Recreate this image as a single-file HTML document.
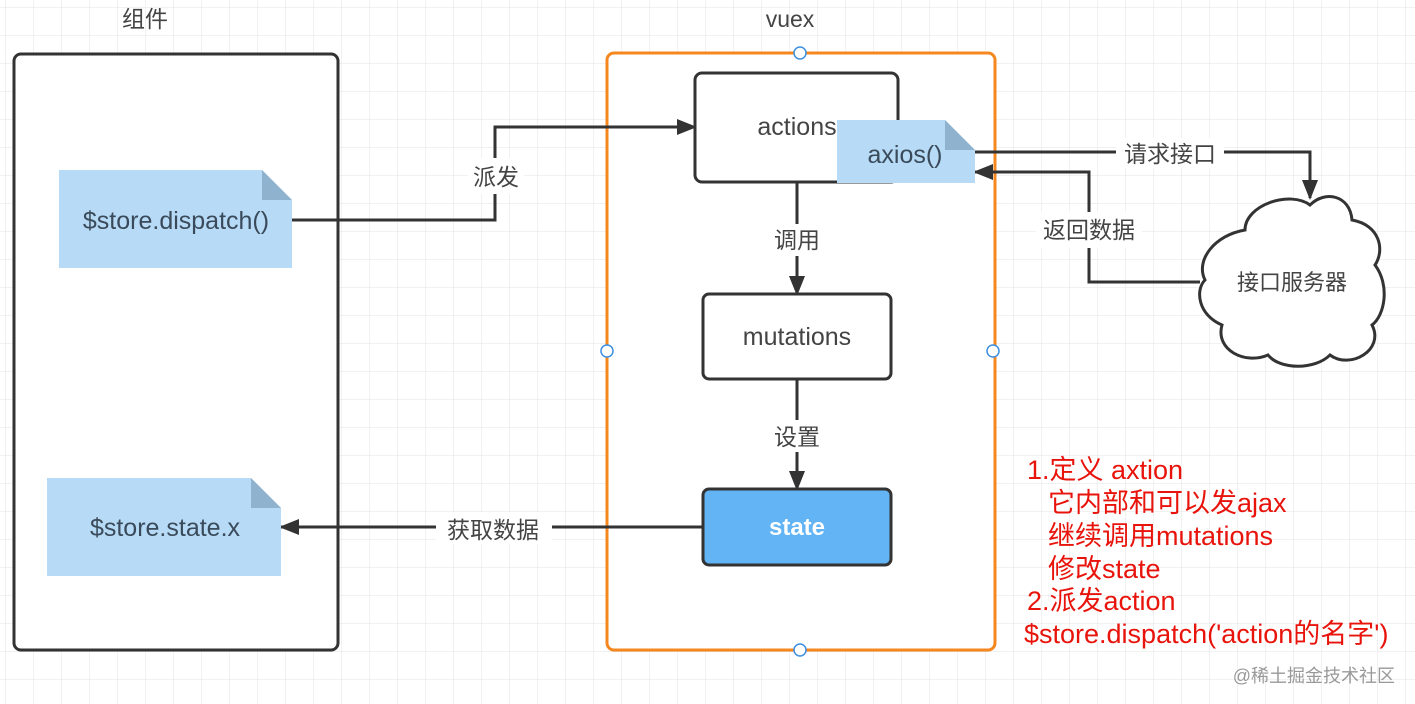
<!DOCTYPE html>
<html><head><meta charset="utf-8"><style>
html,body{margin:0;padding:0;background:#fff}
svg{display:block}
text{font-family:"Liberation Sans","Noto Sans CJK SC",sans-serif}
</style></head><body>
<svg width="1415" height="704" viewBox="0 0 1415 704" xmlns="http://www.w3.org/2000/svg">
<defs>
<pattern id="g" width="28" height="28" patternUnits="userSpaceOnUse" x="6" y="8">
<path d="M28 0V28M0 28H28" fill="none" stroke="#e3e3e3" stroke-width="1"/>
</pattern>
<marker id="a" markerWidth="20" markerHeight="16" refX="18" refY="8" orient="auto" markerUnits="userSpaceOnUse" viewBox="0 0 20 16">
<path d="M0 0L20 8L0 16z" fill="#333"/>
</marker>
</defs>
<rect width="1415" height="704" fill="url(#g)"/>
<g font-size="23" fill="#444" text-anchor="middle">
<text x="145" y="27">组件</text>
<text x="790" y="27">vuex</text>
</g>
<rect x="14" y="54" width="324" height="596" rx="7" fill="#fff" stroke="#333" stroke-width="3"/>
<rect x="607" y="53" width="388" height="597" rx="7" fill="#fff" stroke="#f5871f" stroke-width="3"/>
<g fill="none" stroke="#333" stroke-width="3">
<path d="M292 220H495V127H695" marker-end="url(#a)"/>
<path d="M797 182V294" marker-end="url(#a)"/>
<path d="M797 379V489" marker-end="url(#a)"/>
<path d="M703 527H281" marker-end="url(#a)"/>
<path d="M975 152H1310V198" marker-end="url(#a)"/>
<path d="M1200 282H1089V172H975" marker-end="url(#a)"/>
</g>
<g fill="#fff">
<rect x="468" y="158" width="56" height="36"/>
<rect x="768" y="224" width="58" height="32"/>
<rect x="768" y="420" width="58" height="32"/>
<rect x="436" y="512" width="116" height="32"/>
<rect x="1116" y="138" width="108" height="30"/>
<rect x="1036" y="212" width="106" height="36"/>
</g>
<g font-size="23" fill="#444" text-anchor="middle">
<text x="496" y="185">派发</text>
<text x="797" y="248">调用</text>
<text x="797" y="445">设置</text>
<text x="493" y="538">获取数据</text>
<text x="1170" y="162">请求接口</text>
<text x="1089" y="238">返回数据</text>
</g>
<rect x="695" y="73" width="203" height="109" rx="7" fill="#fff" stroke="#333" stroke-width="3"/>
<text x="797" y="135" font-size="25" fill="#444" text-anchor="middle">actions</text>
<rect x="703" y="294" width="188" height="85" rx="6" fill="#fff" stroke="#333" stroke-width="3"/>
<text x="797" y="345" font-size="25" fill="#444" text-anchor="middle">mutations</text>
<rect x="703" y="489" width="188" height="76" rx="6" fill="#62b4f5" stroke="#333" stroke-width="3"/>
<text x="797" y="535" font-size="24" font-weight="bold" fill="#fff" text-anchor="middle">state</text>
<path d="M837 120H945L975 150V183H837z" fill="#b7dbf6"/>
<path d="M945 120L975 150H945z" fill="#8fb2cf"/>
<text x="905" y="163" font-size="25" fill="#3a4a5a" text-anchor="middle">axios()</text>
<path d="M59 170H262L292 200V268H59z" fill="#b7dbf6"/>
<path d="M262 170L292 200H262z" fill="#8fb2cf"/>
<text x="176" y="229" font-size="25" fill="#3a4a5a" text-anchor="middle">$store.dispatch()</text>
<path d="M47 478H251L281 508V576H47z" fill="#b7dbf6"/>
<path d="M251 478L281 508H251z" fill="#8fb2cf"/>
<text x="165" y="536" font-size="25" fill="#3a4a5a" text-anchor="middle">$store.state.x</text>
<path d="M1245 230C1245 205 1290 190 1310 205C1325 190 1350 195 1352 220C1380 225 1385 250 1375 265C1390 285 1385 315 1372 325C1385 350 1350 370 1330 355C1315 370 1280 370 1268 355C1245 365 1215 350 1222 325C1198 315 1195 290 1205 280C1195 260 1215 235 1245 230z" fill="#fff" stroke="#333" stroke-width="3"/>
<text x="1292" y="290" font-size="22" fill="#444" text-anchor="middle">接口服务器</text>
<g fill="#fff" stroke="#3d8fe0" stroke-width="1.5">
<circle cx="800" cy="53" r="6"/><circle cx="607" cy="351" r="6"/>
<circle cx="993" cy="351" r="6"/><circle cx="800" cy="650" r="6"/>
</g>
<g font-size="27" fill="#e8140c">
<text x="1027" y="479">1.定义 axtion</text>
<text x="1048" y="512">它内部和可以发ajax</text>
<text x="1048" y="545">继续调用mutations</text>
<text x="1048" y="578">修改state</text>
<text x="1027" y="610">2.派发action</text>
<text x="1024" y="643">$store.dispatch('action的名字')</text>
</g>
<text x="1395" y="682" font-size="18" fill="#999" text-anchor="end">@稀土掘金技术社区</text>
</svg>
</body></html>
